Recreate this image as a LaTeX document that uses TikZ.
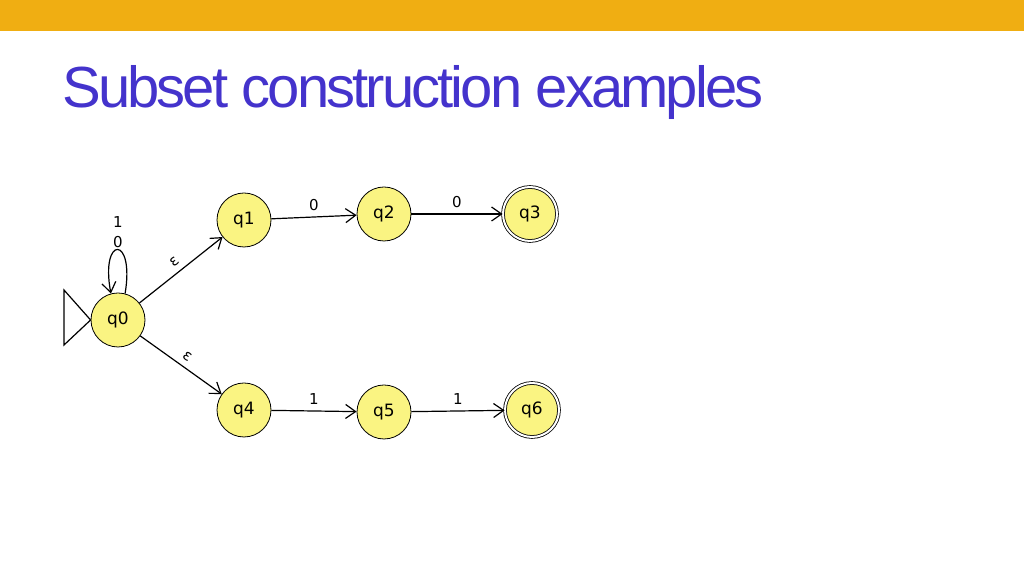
\documentclass[tikz,border=0pt]{standalone}
\usepackage{fontspec}
\setmainfont{Liberation Sans}
\newfontfamily\dv{DejaVu Sans}
\usetikzlibrary{arrows.meta}
\definecolor{bar}{HTML}{F0AE12}
\definecolor{ttl}{HTML}{4433CC}
\definecolor{st}{HTML}{FAF482}
\begin{document}
\begin{tikzpicture}[x=0.5pt,y=-0.5pt,
  state/.style={circle,draw,fill=st,minimum size=27pt,inner sep=0pt,font=\dv\fontsize{8.5}{9}\selectfont},
  acc/.style={state,double,double distance=1pt},
  lab/.style={font=\dv\fontsize{7.5}{9}\selectfont,inner sep=3pt},
  tr/.style={-{Straight Barb[length=5pt,width=7pt]},line width=0.6pt}]
\useasboundingbox (0,0) rectangle (1024,576);
\fill[bar] (0,0) rectangle (1024,31);
\node[anchor=base west,text=ttl,inner sep=0pt,font=\fontsize{29}{34}\selectfont\addfontfeature{LetterSpace=-5}] (title) at (62,108) {Subset construction examples};
\node[state] (q0) at (118,320) {q0};
\node[state] (q1) at (244,220) {q1};
\node[state] (q2) at (384,214) {q2};
\node[acc] (q3) at (530,214) {q3};
\node[state] (q4) at (244,410) {q4};
\node[state] (q5) at (384,412) {q5};
\node[acc] (q6) at (532,410) {q6};
\draw[line width=0.6pt] (q0.west) -- (64,290) -- (64,345) -- cycle;
\draw[tr] (q0.75) .. controls (135,235) and (100,235) .. (q0.105);
\node[lab] (l1) at (118,222) {1};
\node[lab] (l0) at (118,242) {0};
\draw[tr] (q0) -- node[lab,above,sloped] {ε} (q1);
\draw[tr] (q0) -- node[lab,above,sloped] {ε} (q4);
\draw[tr] (q1) -- node[lab,above] {0} (q2);
\draw[tr] (q2) -- node[lab,above] {0} (q3);
\draw[tr] (q4) -- node[lab,above] {1} (q5);
\draw[tr] (q5) -- node[lab,above] {1} (q6);
\end{tikzpicture}
\end{document}
